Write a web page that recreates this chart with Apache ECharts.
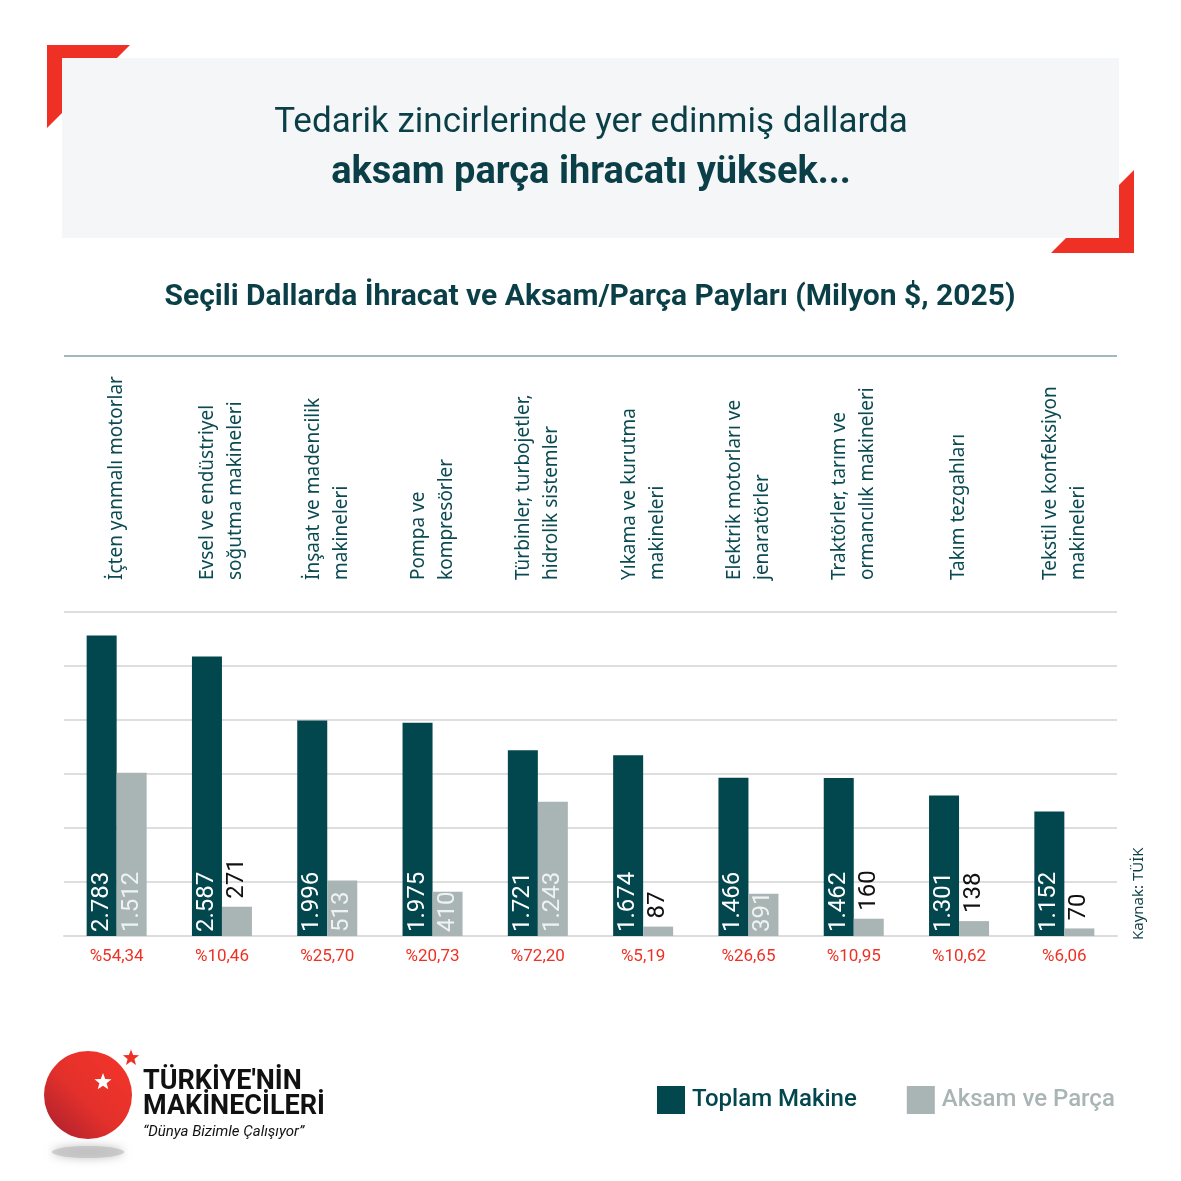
<!DOCTYPE html>
<html>
<head>
<meta charset="utf-8">
<script src="https://cdn.jsdelivr.net/npm/echarts@6/dist/echarts.min.js"></script>
<style>
html,body{margin:0;padding:0;background:#fff;}
#c{width:1181px;height:1181px;}
</style>
</head>
<body>
<div id="c"></div>
<script>
var categories = [
  'İçten yanmalı motorlar',
  'Evsel ve endüstriyel\nsoğutma makineleri',
  'İnşaat ve madencilik\nmakineleri',
  'Pompa ve\nkompresörler',
  'Türbinler, turbojetler,\nhidrolik sistemler',
  'Yıkama ve kurutma\nmakineleri',
  'Elektrik motorları ve\njenaratörler',
  'Traktörler, tarım ve\normancılık makineleri',
  'Takım tezgahları',
  'Tekstil ve konfeksiyon\nmakineleri'
];
var toplamMakine = [2783, 2587, 1996, 1975, 1721, 1674, 1466, 1462, 1301, 1152];
var aksamParca = [1512, 271, 513, 410, 1243, 87, 391, 160, 138, 70];
var paylar = ['%54,34', '%10,46', '%25,70', '%20,73', '%72,20', '%5,19', '%26,65', '%10,95', '%10,62', '%6,06'];
var yTicks = [0, 500, 1000, 1500, 2000, 2500, 3000];

var DARK = '#02464e', GRAY = '#a9b5b4', RED = '#ee3124', TXT = '#0b3f47';
var NARROW = '"Liberation Sans Narrow", "Roboto", sans-serif';
var SANS = '"Noto Sans", "Open Sans", sans-serif';

function fmt(v) { return String(v).replace(/\B(?=(\d{3})+(?!\d))/g, '.'); }

function starPoints(cx, cy, R, r) {
  var pts = [];
  for (var i = 0; i < 10; i++) {
    var a = -Math.PI / 2 + i * Math.PI / 5;
    var rad = i % 2 === 0 ? R : r;
    pts.push([cx + rad * Math.cos(a), cy + rad * Math.sin(a)]);
  }
  return pts;
}

var chart = echarts.init(document.getElementById('c'), null, {renderer: 'canvas'});

var insideLabelBase = {
  show: true, position: 'insideBottom', rotate: 90, align: 'left', verticalAlign: 'middle',
  distance: 4, fontSize: 24, fontFamily: NARROW
};

var aksamData = aksamParca.map(function (v) {
  var small = v < 300;
  return {
    value: v,
    label: small ? {
      show: true, position: 'top', rotate: 90, align: 'left', verticalAlign: 'middle',
      distance: 8, color: '#111', fontSize: 24, fontFamily: NARROW
    } : Object.assign({}, insideLabelBase, {color: '#eef2f2'})
  };
});

var option = {
  backgroundColor: '#ffffff',
  animation: false,
  grid: {left: 64, right: 64, top: 612, bottom: 245, containLabel: false},
  legend: {
    left: 657, top: 1086, padding: 0, itemWidth: 28, itemHeight: 28, itemGap: 50, icon: 'rect',
    textStyle: {fontSize: 24, fontFamily: NARROW, fontWeight: 500, padding: [0, 0, 0, 2]},
    data: [
      {name: 'Toplam Makine', textStyle: {color: DARK}},
      {name: 'Aksam ve Parça', textStyle: {color: GRAY}}
    ]
  },
  xAxis: [
    {
      type: 'category', position: 'bottom', data: paylar,
      axisLine: {show: true, lineStyle: {color: '#dcdcdc', width: 2}},
      axisTick: {show: false},
      axisLabel: {color: RED, fontSize: 17, fontFamily: NARROW, margin: 12, interval: 0}
    },
    {
      type: 'category', position: 'top', data: categories,
      axisLine: {show: false}, axisTick: {show: false},
      axisLabel: {color: '#0b4a52', fontSize: 19, lineHeight: 28, fontFamily: SANS,
        rotate: -90, margin: 32, interval: 0}
    }
  ],
  yAxis: {
    type: 'value', min: yTicks[0], max: yTicks[yTicks.length - 1], interval: yTicks[1] - yTicks[0],
    axisLabel: {show: false}, axisLine: {show: false}, axisTick: {show: false},
    splitLine: {show: true, lineStyle: {color: '#dedede', width: 2}}
  },
  series: [
    {
      name: 'Toplam Makine', type: 'bar', xAxisIndex: 0, data: toplamMakine,
      barWidth: 30, barGap: '0%',
      itemStyle: {color: DARK},
      label: Object.assign({}, insideLabelBase, {color: '#ffffff', formatter: function (p) { return fmt(p.value); }})
    },
    {
      name: 'Aksam ve Parça', type: 'bar', xAxisIndex: 0, data: aksamData,
      barWidth: 30, barGap: '0%',
      itemStyle: {color: GRAY},
      label: {formatter: function (p) { return fmt(p.value); }}
    }
  ],
  graphic: [
    {type: 'polygon', shape: {points: [[47, 45], [130, 45], [47, 128]]}, style: {fill: RED}, z: 0},
    {type: 'polygon', shape: {points: [[1051, 253], [1134, 253], [1134, 170]]}, style: {fill: RED}, z: 0},
    {type: 'rect', shape: {x: 62, y: 58, width: 1057, height: 180}, style: {fill: '#f5f6f8'}, z: 1},
    {type: 'text', x: 591, y: 123, z: 2, style: {text: 'Tedarik zincirlerinde yer edinmiş dallarda',
      fill: TXT, font: '35px ' + NARROW, align: 'center', verticalAlign: 'middle'}},
    {type: 'text', x: 591, y: 173, z: 2, style: {text: 'aksam parça ihracatı yüksek...',
      fill: TXT, font: 'bold 38px ' + NARROW, align: 'center', verticalAlign: 'middle'}},
    {type: 'text', x: 590, y: 297, z: 2, style: {text: 'Seçili Dallarda İhracat ve Aksam/Parça Payları (Milyon $, 2025)',
      fill: TXT, font: 'bold 30px ' + NARROW, align: 'center', verticalAlign: 'middle'}},
    {type: 'line', shape: {x1: 64, y1: 356, x2: 1117, y2: 356}, style: {stroke: '#7fa2a8', lineWidth: 1.5}},
    {type: 'text', x: 1139, y: 940, rotation: Math.PI / 2, z: 2, style: {text: 'Kaynak: TÜİK',
      fill: TXT, font: '15px ' + SANS, align: 'left', verticalAlign: 'middle'}},
    // logo
    {type: 'ellipse', shape: {cx: 88, cy: 1152, rx: 36, ry: 6}, style: {
      fill: 'rgba(190,190,190,0.7)', shadowBlur: 10, shadowColor: 'rgba(160,160,160,0.9)'}},
    {type: 'circle', shape: {cx: 88, cy: 1095, r: 44}, style: {
      fill: {type: 'linear', x: 1, y: 0, x2: 0, y2: 1, colorStops: [{offset: 0, color: '#f5352a'}, {offset: 0.55, color: '#e3302b'}, {offset: 1, color: '#a51f2f'}]}}},
    {type: 'polygon', shape: {points: starPoints(103, 1082, 9, 3.8)}, style: {fill: '#ffffff'}},
    {type: 'polygon', shape: {points: starPoints(131, 1058, 8.5, 3.6)}, style: {fill: RED}},
    {type: 'text', x: 143, y: 1082, style: {text: "TÜRKİYE'NİN", fill: '#111', font: 'bold 27px ' + NARROW, verticalAlign: 'middle'}},
    {type: 'text', x: 143, y: 1107, style: {text: 'MAKİNECİLERİ', fill: '#111', font: 'bold 27px ' + NARROW, verticalAlign: 'middle'}},
    {type: 'text', x: 143, y: 1132, style: {text: '“Dünya Bizimle Çalışıyor”', fill: '#111', font: 'italic 15px ' + NARROW, verticalAlign: 'middle'}}
  ]
};
chart.setOption(option);
</script>
</body>
</html>
